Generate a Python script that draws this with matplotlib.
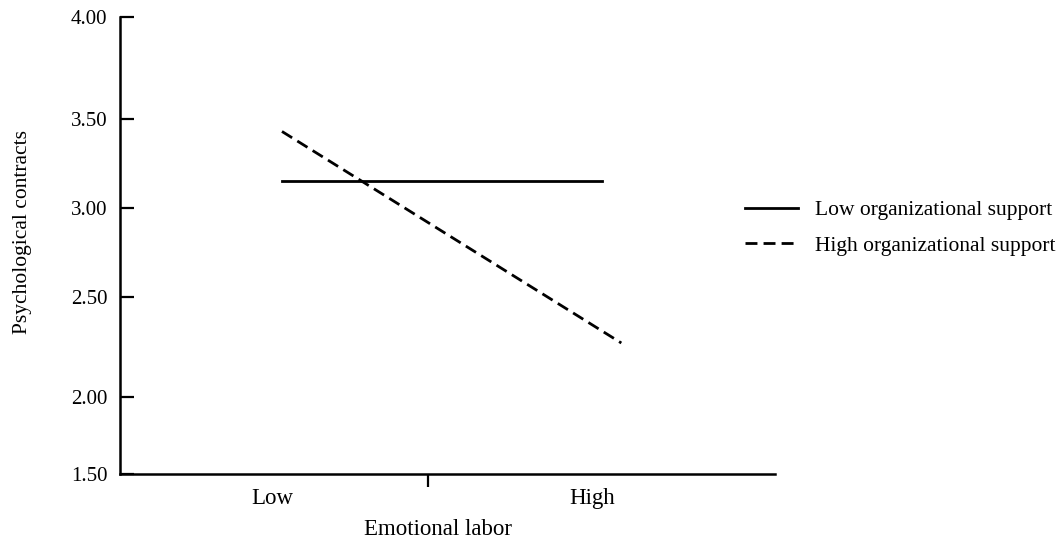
import numpy as np
import matplotlib
matplotlib.use("Agg")
import matplotlib.pyplot as plt

plt.rcParams['font.family'] = ['Liberation Serif', 'DejaVu Serif']

# data
levels = ["Low", "High"]
x_low_support = [0, 1]
y_low_support = [3.15, 3.15]
x_high_support = [0, 1.06]
y_high_support = [3.43, 2.27]
y_ticks = [1.5, 2.0, 2.5, 3.0, 3.5, 4.0]
y_ticklabels = ["1.50", "2.00", "2.50", "3.00", "3.50", "4.00"]

# the original figure spaces its y ticks unevenly, keep that
tick_frac = np.array([0, 77, 177, 266, 355, 457]) / 457.0


def fwd(v):
    return np.interp(v, y_ticks, tick_frac)


def inv(f):
    return np.interp(f, tick_frac, y_ticks)


fig = plt.figure(figsize=(10.63, 5.43), dpi=100)
ax = fig.add_axes([120 / 1063, 69 / 543, 655 / 1063, 457 / 543])

ax.plot(x_low_support, y_low_support, color='black', lw=2.0,
        label='Low organizational support')
ax.plot(x_high_support, y_high_support, color='black', lw=2.0,
        linestyle=(0, (4.3, 2.2)), label='High organizational support')

ax.set_yscale('function', functions=(fwd, inv))
ax.set_ylim(1.5, 4.0)
ax.set_xlim(-0.506, 1.54)

ax.set_yticks(y_ticks)
ax.set_yticklabels(y_ticklabels)
ax.tick_params(axis='y', direction='in', length=10, width=1.6, pad=9,
               labelsize=15)

# single major tick between categories, category names on minor ticks
ax.set_xticks([0.456])
ax.set_xticklabels([''])
ax.set_xticks([-0.03, 0.97], minor=True)
ax.set_xticklabels(levels, minor=True)
ax.tick_params(axis='x', which='major', direction='out', length=9, width=1.6)
ax.tick_params(axis='x', which='minor', length=0, pad=10, labelsize=16.5)

for side in ['top', 'right']:
    ax.spines[side].set_visible(False)
for side in ['left', 'bottom']:
    ax.spines[side].set_linewidth(1.8)

ax.set_xlabel('Emotional labor', fontsize=16.5)
ax.xaxis.set_label_coords(0.4855, -0.099)
ax.set_ylabel('Psychological contracts', fontsize=15.5)
ax.yaxis.set_label_coords(-0.135, 0.53)

fig.legend(loc='center left', bbox_to_anchor=(745 / 1063, 1 - 228 / 543),
           frameon=False, fontsize=15.5, handlelength=2.45, handletextpad=0.8,
           labelspacing=0.7, borderpad=0, borderaxespad=0)

fig.savefig('out.png', dpi=100)
